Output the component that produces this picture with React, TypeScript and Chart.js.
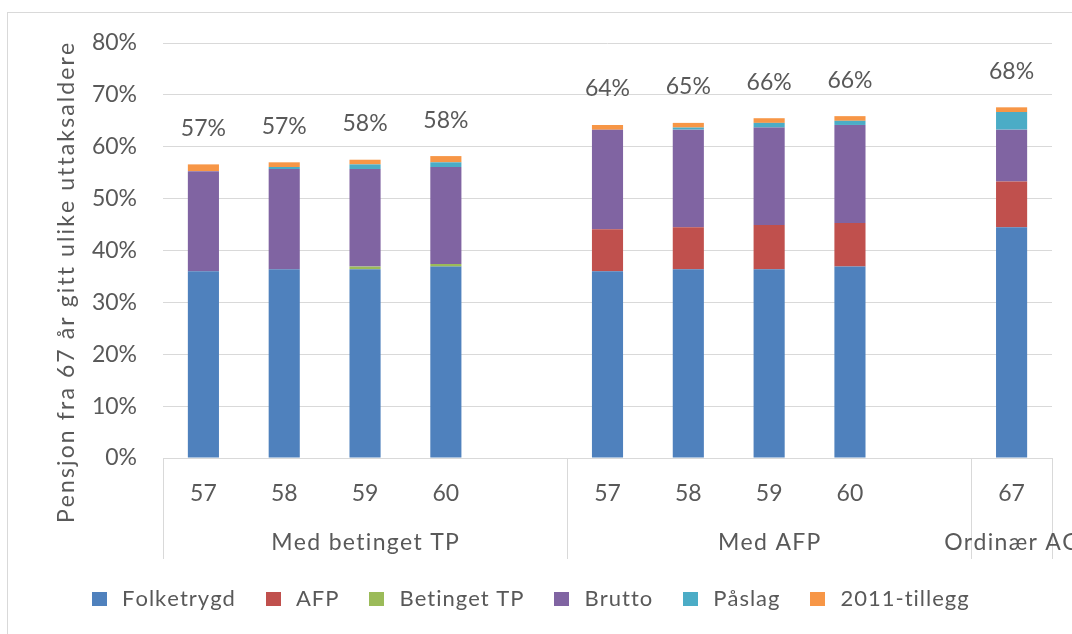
import React, { useEffect, useRef } from "react";
import { Chart, registerables } from "chart.js";

Chart.register(...registerables);

const categories = ["57", "58", "59", "60", "", "57", "58", "59", "60", "", "67"];
const groupLabels = ["Med betinget TP", "Med AFP", "Ordinær AG"];
const groupSizes = [5, 5, 1];

const folketrygd = [36.0, 36.4, 36.4, 36.9, null, 36.0, 36.4, 36.4, 36.9, null, 44.5];
const afp = [0, 0, 0, 0, null, 8.1, 8.1, 8.5, 8.4, null, 8.8];
const betingetTP = [0, 0, 0.5, 0.5, null, 0, 0, 0, 0, null, 0];
const brutto = [19.3, 19.3, 18.8, 18.7, null, 19.2, 18.8, 18.8, 18.9, null, 10.0];
const paslag = [0, 0.4, 0.9, 0.9, null, 0, 0.4, 0.9, 0.8, null, 3.4];
const tillegg2011 = [1.3, 0.9, 0.9, 1.2, null, 0.9, 0.9, 0.9, 0.9, null, 0.9];
const totalLabels = ["57%", "57%", "58%", "58%", "", "64%", "65%", "66%", "66%", "", "68%"];

const yTickLabels = ["0%", "10%", "20%", "30%", "40%", "50%", "60%", "70%", "80%"];
const yTitle = "Pensjon fra 67 år gitt ulike uttaksaldere";

const seriesNames = ["Folketrygd", "AFP", "Betinget TP", "Brutto", "Påslag", "2011-tillegg"];
const seriesColors = ["#4F81BD", "#C0504D", "#9BBB59", "#8064A2", "#4BACC6", "#F79646"];
const seriesData = [folketrygd, afp, betingetTP, brutto, paslag, tillegg2011];

const FONT = 'Lato, "Open Sans", sans-serif';
const TEXT = "#595959";
const GRID = "#d9d9d9";

function spacedText(ctx: CanvasRenderingContext2D, text: string, x: number, y: number, spacing: number, align: string) {
  const chars = Array.from(text);
  const widths = chars.map((c) => ctx.measureText(c).width);
  const w = widths.reduce((s, v) => s + v, 0) + spacing * (chars.length - 1);
  let cx = align === "center" ? x - w / 2 : align === "right" ? x - w : x;
  ctx.textAlign = "left";
  chars.forEach((c, i) => {
    ctx.fillText(c, cx, y);
    cx += widths[i] + spacing;
  });
  return w;
}

const decorPlugin = {
  id: "decor",
  afterDraw(chart: any) {
    const ctx: CanvasRenderingContext2D = chart.ctx;
    const xs = chart.scales.x;
    const ys = chart.scales.y;
    const n = categories.length;
    ctx.save();

    // outer frame
    ctx.strokeStyle = GRID;
    ctx.lineWidth = 1;
    ctx.strokeRect(7.5, 12.5, 1200, 800);

    // data labels
    ctx.fillStyle = TEXT;
    ctx.font = `23px ${FONT}`;
    ctx.textBaseline = "middle";
    for (let i = 0; i < n; i++) {
      if (!totalLabels[i]) continue;
      let sum = 0;
      seriesData.forEach((d) => (sum += (d[i] as number) || 0));
      const px = xs.getPixelForValue(i);
      const py = ys.getPixelForValue(sum) - 36;
      spacedText(ctx, totalLabels[i], px, py, 0, "center");
    }

    // category separators & group labels
    const edge = (k: number) => {
      if (k <= 0) return xs.left;
      if (k >= n) return xs.right;
      return (xs.getPixelForValue(k - 1) + xs.getPixelForValue(k)) / 2;
    };
    ctx.strokeStyle = GRID;
    ctx.lineWidth = 1;
    let start = 0;
    const edges = [0];
    groupSizes.forEach((s) => {
      start += s;
      edges.push(start);
    });
    edges.forEach((k) => {
      const ex = Math.round(edge(k)) + 0.5;
      ctx.beginPath();
      ctx.moveTo(ex, xs.top);
      ctx.lineTo(ex, 559);
      ctx.stroke();
    });
    ctx.fillStyle = TEXT;
    ctx.font = `23px ${FONT}`;
    ctx.textBaseline = "middle";
    start = 0;
    groupSizes.forEach((s, gi) => {
      const cx = (edge(start) + edge(start + s)) / 2;
      spacedText(ctx, groupLabels[gi], cx, 543, 1.3, "center");
      start += s;
    });

    // y title
    ctx.save();
    ctx.translate(67, 283);
    ctx.rotate(-Math.PI / 2);
    ctx.font = `23px ${FONT}`;
    ctx.textBaseline = "middle";
    spacedText(ctx, yTitle, 0, 0, 2.1, "center");
    ctx.restore();

    // legend
    ctx.font = `22px ${FONT}`;
    ctx.textBaseline = "middle";
    const box = 15;
    const gapBoxText = 15;
    const gapItem = 31;
    const spacing = 1;
    const widths = seriesNames.map((s) => {
      const chars = Array.from(s);
      return chars.reduce((a, c) => a + ctx.measureText(c).width, 0) + spacing * (chars.length - 1);
    });
    let lx = 92;
    const ly = 599;
    seriesNames.forEach((s, i) => {
      ctx.fillStyle = seriesColors[i];
      ctx.fillRect(Math.round(lx), ly - 7, box, 14);
      ctx.fillStyle = TEXT;
      spacedText(ctx, s, lx + box + gapBoxText, ly, spacing, "left");
      lx += box + gapBoxText + widths[i] + gapItem;
    });

    ctx.restore();
  },
};

export default function App() {
  const ref = useRef<HTMLCanvasElement | null>(null);
  useEffect(() => {
    if (!ref.current) return;
    const chart = new Chart(ref.current, {
      type: "bar",
      data: {
        labels: categories,
        datasets: seriesNames.map((name, i) => ({
          label: name,
          data: seriesData[i],
          backgroundColor: seriesColors[i],
          borderWidth: 0,
          barPercentage: 0.385,
          categoryPercentage: 1,
        })),
      },
      options: {
        animation: false,
        responsive: false,
        devicePixelRatio: 1,
        layout: { padding: { left: 0, top: 43, right: 20, bottom: 0 } },
        plugins: { legend: { display: false }, tooltip: { enabled: false } },
        scales: {
          x: {
            stacked: true,
            grid: { display: false },
            border: { display: true, color: GRID },
            ticks: {
              autoSkip: false,
              maxRotation: 0,
              color: TEXT,
              font: { family: FONT, size: 23 },
              padding: 14,
            },
            afterFit: (s: any) => {
              s.height = 176;
            },
          },
          y: {
            stacked: true,
            min: 0,
            max: 80,
            grid: { color: GRID, lineWidth: 1, drawTicks: false },
            border: { display: false },
            ticks: {
              stepSize: 10,
              color: TEXT,
              font: { family: FONT, size: 23 },
              padding: 26,
              callback: (_v: any, i: number) => yTickLabels[i],
            },
            afterFit: (s: any) => {
              s.width = 163;
            },
          },
        },
      },
      plugins: [decorPlugin],
    });
    return () => chart.destroy();
  }, []);
  return (
    <div style={{ position: "absolute", left: 0, top: 0, width: 1072, height: 634, background: "#fff" }}>
      <canvas ref={ref} width={1072} height={634} style={{ width: 1072, height: 634 }} />
    </div>
  );
}
